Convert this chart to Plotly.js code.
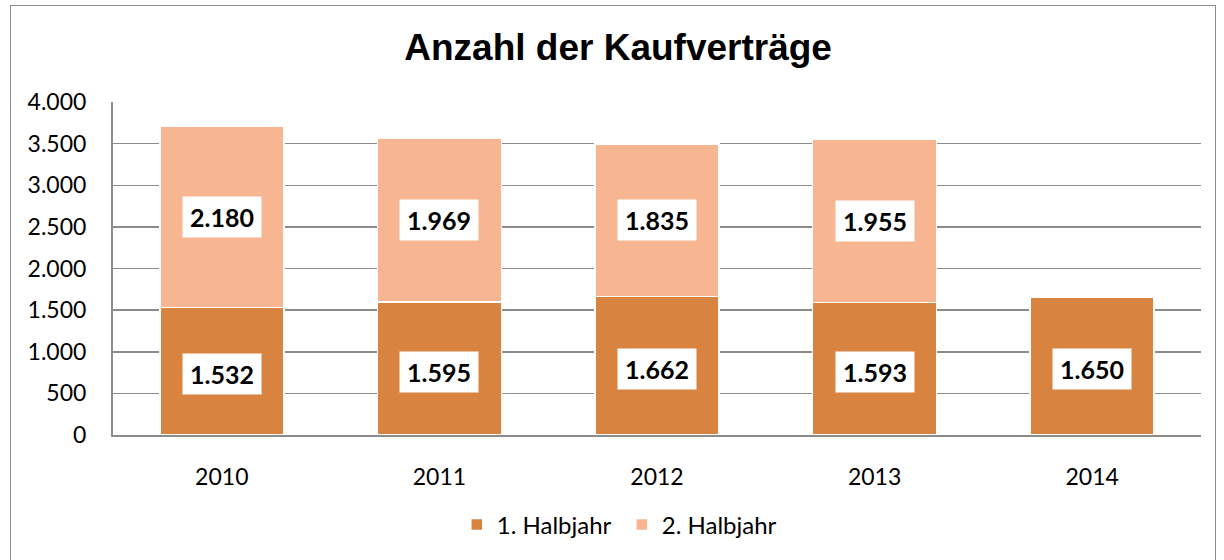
<!DOCTYPE html>
<html><head><meta charset="utf-8">
<script src="https://cdn.plot.ly/plotly-3.0.1.min.js"></script>
<style>
html,body{margin:0;padding:0;background:#fff;}
#wrap{position:relative;width:1224px;height:560px;overflow:hidden;}
#chart{position:absolute;left:0;top:0;width:1224px;height:560px;}
#frame{position:absolute;left:10px;top:5px;width:1204px;height:600px;border:1.5px solid #8c8c8c;pointer-events:none;}
</style></head>
<body>
<div id="wrap"><div id="chart"></div><div id="frame"></div></div>
<script>
const years = ['2010','2011','2012','2013','2014'];
const firstHalf = [1532, 1595, 1662, 1593, 1650];
const secondHalf = [2180, 1969, 1835, 1955, 0];
const seriesNames = ['1. Halbjahr', '2. Halbjahr'];
const chartTitle = 'Anzahl der Kaufverträge';
const yTicks = [0, 500, 1000, 1500, 2000, 2500, 3000, 3500, 4000];

function fmt(v){
  const t = Math.floor(v/1000), r = v % 1000;
  return t > 0 ? t + '.' + String(r).padStart(3,'0') : String(r);
}

const colDark = '#D98340', colLight = '#F7B591';
const idx = years.map((_, i) => i);
const FONT = 'Lato, "Noto Sans", sans-serif';

const traces = [
  {type:'bar', x: idx, y: firstHalf, name: seriesNames[0],
   marker:{color: colDark, line:{color:'#ffffff', width:1.5}}, hoverinfo:'none'},
  {type:'bar', x: idx, y: secondHalf, name: seriesNames[1],
   marker:{color: colLight, line:{color:'#ffffff', width:1.5}}, hoverinfo:'none'}
];

const labFont = {family:FONT, size:25, color:'#000'};
const annotations = [];
idx.forEach(i=>{
  if (firstHalf[i]) annotations.push({x: i, y: firstHalf[i]/2, yshift:-3, text: '<b>'+fmt(firstHalf[i])+'</b>',
    showarrow:false, bgcolor:'#ffffff', borderpad:1, width:76, height:38, font:labFont});
  if (secondHalf[i]) annotations.push({x: i, y: firstHalf[i] + secondHalf[i]/2, text: '<b>'+fmt(secondHalf[i])+'</b>',
    showarrow:false, bgcolor:'#ffffff', borderpad:1, width:76, height:38, font:labFont});
});

const layout = {
  width:1224, height:560,
  margin:{l:113, r:23, t:102, b:125},
  paper_bgcolor:'rgba(0,0,0,0)', plot_bgcolor:'#ffffff',
  separators: ',.',
  barmode:'stack', bargap:0.43,
  title:{text:'<b>'+chartTitle+'</b>', x:0.505, xanchor:'center', y:0.916, yanchor:'middle',
    font:{family:'"Liberation Sans", Arial, sans-serif', size:37, color:'#000'}},
  xaxis:{type:'linear', range:[-0.5, 4.5], tickvals: idx, ticktext: years, showgrid:false, zeroline:false,
    showline:true, linecolor:'#8c8c8c', linewidth:2,
    ticks:'outside', ticklen:20, tickcolor:'rgba(0,0,0,0)',
    tickfont:{family:FONT, size:23, color:'#000'}, fixedrange:true},
  yaxis:{range:[0,4000], tickvals: yTicks, tickformat:',d', showgrid:true, gridcolor:'#8c8c8c', gridwidth:1.5,
    showline:true, linecolor:'#8c8c8c', linewidth:2, zeroline:false,
    ticks:'outside', ticklen:20, tickcolor:'rgba(0,0,0,0)',
    tickfont:{family:FONT, size:23, color:'#000'}, fixedrange:true},
  legend:{orientation:'h', x:0.316, xanchor:'left', y:-0.27, yanchor:'middle',
    entrywidth:120, entrywidthmode:'pixels',
    font:{family:FONT, size:24, color:'#000'}, traceorder:'normal'},
  annotations: annotations,
  showlegend:true
};

Plotly.newPlot('chart', traces, layout, {displayModeBar:false, staticPlot:true});
</script>
</body></html>
